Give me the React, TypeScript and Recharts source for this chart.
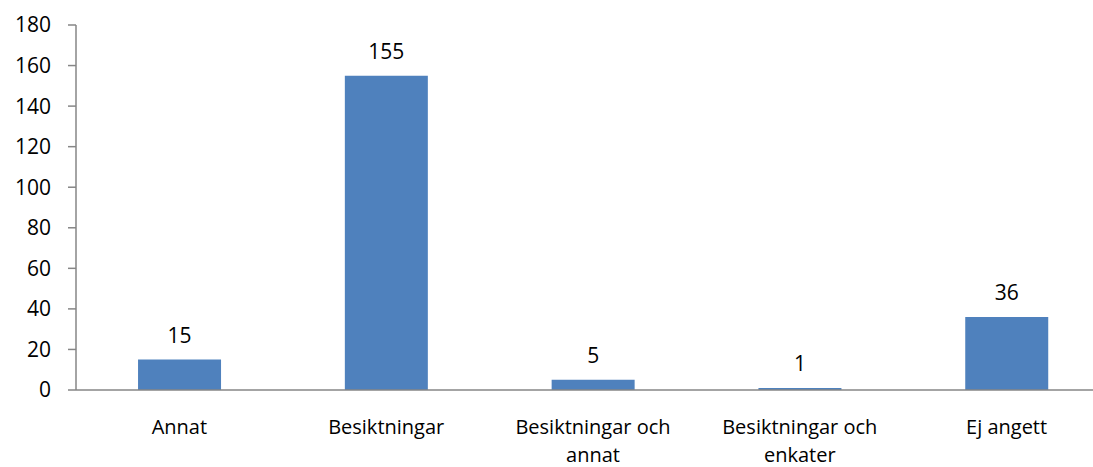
import { BarChart, Bar, XAxis, YAxis, LabelList } from "recharts";

const categories = ["Annat", "Besiktningar", "Besiktningar och annat", "Besiktningar och enkater", "Ej angett"];
const counts = [15, 155, 5, 1, 36];
const yTicks = [0, 20, 40, 60, 80, 100, 120, 140, 160, 180];

const data = categories.map((name, i) => ({ name, value: counts[i] }));

const FONT = "'Open Sans', sans-serif";

// wrap a label into lines of at most ~16 characters
function wrap(label: string): string[] {
  const words = label.split(" ");
  const lines: string[] = [];
  let cur = "";
  for (const w of words) {
    const next = cur ? cur + " " + w : w;
    if (next.length > 16 && cur) {
      lines.push(cur);
      cur = w;
    } else {
      cur = next;
    }
  }
  if (cur) lines.push(cur);
  return lines;
}

function CategoryTick(props: any) {
  const { x, y, payload } = props;
  const lines = wrap(String(payload.value));
  return (
    <g>
      {lines.map((line, i) => (
        <text
          key={i}
          x={x}
          y={y + 36 + i * 28}
          textAnchor="middle"
          fill="#000"
          fontSize={20}
          fontFamily={FONT}
        >
          {line}
        </text>
      ))}
    </g>
  );
}

export default function App() {
  return (
    <div style={{ position: "absolute", left: 0, top: 0, width: 1093, height: 467, overflow: "hidden", background: "#fff" }}>
      <BarChart
        width={1110}
        height={467}
        data={data}
        margin={{ top: 25, right: 0, bottom: 0, left: 0 }}
        barCategoryGap="30%"
      >
        <XAxis
          dataKey="name"
          height={77}
          interval={0}
          tickLine={false}
          axisLine={{ stroke: "#868686", strokeWidth: 1.5 }}
          tick={<CategoryTick />}
        />
        <YAxis
          width={76}
          domain={[0, 180]}
          ticks={yTicks}
          interval={0}
          tickSize={8}
          tickMargin={17}
          axisLine={{ stroke: "#868686", strokeWidth: 1.5 }}
          tickLine={{ stroke: "#868686", strokeWidth: 1.5 }}
          tick={{ fill: "#000", fontSize: 21, fontFamily: FONT }}
        />
        <Bar dataKey="value" fill="#4F81BD" isAnimationActive={false}>
          <LabelList
            dataKey="value"
            position="top"
            offset={17}
            fill="#000"
            fontSize={21}
            fontFamily={FONT}
          />
        </Bar>
      </BarChart>
    </div>
  );
}
